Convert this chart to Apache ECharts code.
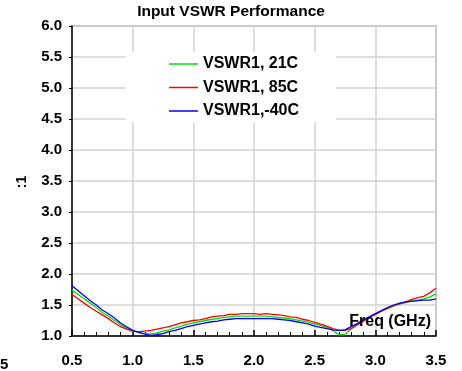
<!DOCTYPE html>
<html>
<head>
<meta charset="utf-8">
<script src="https://cdn.jsdelivr.net/npm/echarts@6/dist/echarts.min.js"></script>
<style>
  html, body { margin: 0; padding: 0; background: #fff; }
  #chart { width: 462px; height: 371px; }
</style>
</head>
<body>
<div id="chart"></div>
<script>
// Frequency sweep (GHz) and measured input VSWR at three temperatures
const freq = [
  0.50, 0.55, 0.60, 0.65, 0.70, 0.75, 0.80, 0.85, 0.90, 0.95,
  1.00, 1.05, 1.10, 1.15, 1.20, 1.25, 1.30, 1.35, 1.40, 1.45,
  1.50, 1.55, 1.60, 1.65, 1.70, 1.75, 1.80, 1.85, 1.90, 1.95,
  2.00, 2.05, 2.10, 2.15, 2.20, 2.25, 2.30, 2.35, 2.40, 2.45,
  2.50, 2.55, 2.60, 2.65, 2.70, 2.75, 2.80, 2.85, 2.90, 2.95,
  3.00, 3.05, 3.10, 3.15, 3.20, 3.25, 3.30, 3.35, 3.40, 3.45, 3.50
];
const vswr21C = [
  1.74, 1.67, 1.60, 1.53, 1.46, 1.38, 1.32, 1.25, 1.18, 1.13,
  1.08, 1.06, 1.04, 1.03, 1.05, 1.08, 1.10, 1.13, 1.16, 1.19,
  1.21, 1.23, 1.25, 1.27, 1.28, 1.30, 1.31, 1.32, 1.32, 1.32,
  1.32, 1.32, 1.32, 1.31, 1.30, 1.29, 1.28, 1.26, 1.24, 1.22,
  1.19, 1.17, 1.14, 1.09, 1.02, 1.03, 1.11, 1.18, 1.24, 1.30,
  1.35, 1.40, 1.44, 1.48, 1.52, 1.54, 1.57, 1.58, 1.60, 1.63, 1.68
];
const vswr85C = [
  1.67, 1.60, 1.53, 1.46, 1.40, 1.34, 1.28, 1.21, 1.15, 1.11,
  1.08, 1.07, 1.08, 1.09, 1.11, 1.13, 1.15, 1.18, 1.21, 1.23,
  1.25, 1.26, 1.28, 1.31, 1.32, 1.33, 1.35, 1.35, 1.36, 1.36,
  1.36, 1.35, 1.36, 1.35, 1.34, 1.33, 1.31, 1.30, 1.27, 1.25,
  1.22, 1.19, 1.16, 1.12, 1.09, 1.09, 1.12, 1.18, 1.24, 1.30,
  1.35, 1.40, 1.45, 1.49, 1.52, 1.55, 1.59, 1.62, 1.64, 1.70, 1.77
];
const vswrMinus40C = [
  1.81, 1.73, 1.65, 1.57, 1.50, 1.42, 1.36, 1.29, 1.21, 1.15,
  1.09, 1.06, 1.03, 1.01, 1.02, 1.04, 1.07, 1.09, 1.12, 1.15,
  1.17, 1.19, 1.21, 1.23, 1.24, 1.26, 1.27, 1.28, 1.28, 1.28,
  1.28, 1.28, 1.28, 1.28, 1.27, 1.26, 1.25, 1.23, 1.21, 1.19,
  1.16, 1.14, 1.12, 1.10, 1.09, 1.10, 1.15, 1.20, 1.26, 1.31,
  1.36, 1.41, 1.46, 1.50, 1.53, 1.55, 1.56, 1.57, 1.58, 1.58, 1.60
];
const seriesNames = ['VSWR1, 21C', 'VSWR1, 85C', 'VSWR1,-40C'];
const seriesColors = ['#00e000', '#ff0000', '#0000ff'];
const seriesValues = [vswr21C, vswr85C, vswrMinus40C];

const FONT = '"Liberation Sans", Arial, sans-serif';
const chart = echarts.init(document.getElementById('chart'), null, { renderer: 'canvas' });

const pairs = vals => freq.map((f, i) => [f, vals[i]]);

chart.setOption({
  animation: false,
  backgroundColor: '#fff',
  title: {
    text: 'Input VSWR Performance',
    left: 'center',
    top: 0,
    padding: [4, 5],
    textStyle: { fontFamily: FONT, fontWeight: 'bold', fontSize: 15.5, color: '#000' }
  },
  legend: {
    orient: 'vertical',
    left: 126,
    top: 52,
    backgroundColor: '#fff',
    padding: [4, 37, 3, 43],
    icon: 'rect',
    itemWidth: 29,
    itemHeight: 1.5,
    itemGap: 7.5,
    data: seriesNames,
    textStyle: { fontFamily: FONT, fontWeight: 'bold', fontSize: 16, color: '#000' }
  },
  grid: {
    left: 72, right: 26, top: 26, bottom: 35,
    show: true, borderColor: '#9a9a9a', borderWidth: 1.5
  },
  xAxis: {
    type: 'value',
    min: 0.5, max: 3.5, interval: 0.5,
    axisLine: { show: true, lineStyle: { color: '#000', width: 1.5 } },
    axisTick: { show: true, inside: true, length: 6, lineStyle: { color: '#000', width: 1.5 } },
    minorTick: { show: true, splitNumber: 5, length: 4, lineStyle: { color: '#000', width: 1 } },
    splitLine: { show: true, lineStyle: { color: '#d2d2d2', width: 1.5 } },
    axisLabel: {
      margin: 17,
      formatter: v => v.toFixed(1),
      fontFamily: FONT, fontWeight: 'bold', fontSize: 15, color: '#000'
    }
  },
  yAxis: {
    type: 'value',
    min: 1, max: 6, interval: 0.5,
    axisLine: { show: true, lineStyle: { color: '#000', width: 1.5 } },
    axisTick: { show: true, length: 3, lineStyle: { color: '#000', width: 1 } },
    splitLine: { show: true, lineStyle: { color: '#d2d2d2', width: 1.5 } },
    axisLabel: {
      margin: 10,
      formatter: v => v.toFixed(1),
      fontFamily: FONT, fontWeight: 'bold', fontSize: 15, color: '#000'
    }
  },
  graphic: [
    {
      type: 'text', x: 431, y: 322, z: 100,
      style: { text: 'Freq (GHz)', font: 'bold 16px ' + FONT, fill: '#000', align: 'right', verticalAlign: 'middle' }
    },
    {
      type: 'text', x: 22, y: 182, rotation: Math.PI / 2, z: 100,
      style: { text: ':1', font: 'bold 14px ' + FONT, fill: '#000', align: 'center', verticalAlign: 'middle' }
    },
    {
      type: 'text', x: 0, y: 357, z: 100,
      style: { text: '5', font: 'bold 15px ' + FONT, fill: '#000', align: 'left', verticalAlign: 'top' }
    }
  ],
  series: seriesNames.map((name, k) => ({
    name,
    type: 'line',
    symbol: 'none',
    color: seriesColors[k],
    lineStyle: { color: seriesColors[k], width: 1.3 },
    data: pairs(seriesValues[k])
  }))
});
</script>
</body>
</html>
